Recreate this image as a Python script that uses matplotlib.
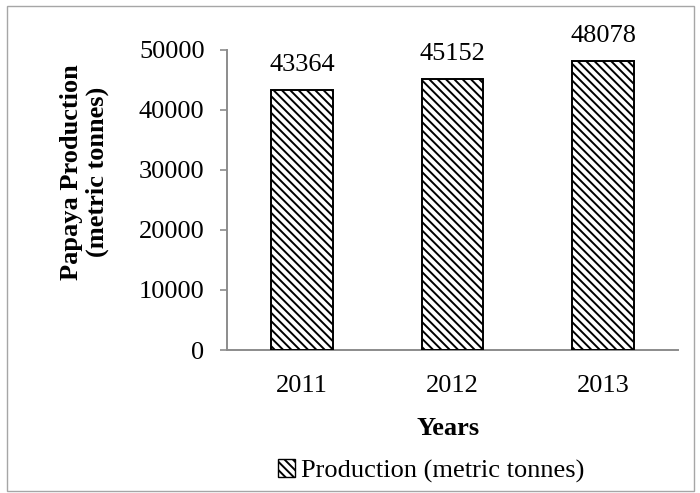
import matplotlib.pyplot as plt
from matplotlib.patches import Rectangle, Patch

years = ['2011', '2012', '2013']
production = [43364, 45152, 48078]
yticks = [0, 10000, 20000, 30000, 40000, 50000]

plt.rcParams['font.family'] = 'Liberation Serif'
plt.rcParams['hatch.linewidth'] = 1.4

fig = plt.figure(figsize=(7, 4.93), dpi=100)
ax = fig.add_axes([0.324, 0.29, 0.645, 0.609])

x = range(len(years))
ax.bar(x, production, width=0.41, color='white', edgecolor='black',
       linewidth=1.4, hatch='\\\\\\\\', zorder=3)
for xi, v in zip(x, production):
    ax.annotate(str(v), (xi, v), xytext=(0, 10), textcoords='offset points',
                ha='center', va='bottom', fontsize=19)

ax.set_xlim(-0.5, 2.5)
ax.set_ylim(0, 50000)
ax.set_yticks(yticks)
ax.set_xticks(list(x))
ax.set_xticklabels(years)
ax.tick_params(axis='y', labelsize=19, length=5, width=1.2, color='#8c8c8c', pad=11)
ax.tick_params(axis='x', labelsize=19, length=0, pad=18)

for s in ['top', 'right']:
    ax.spines[s].set_visible(False)
for s in ['left', 'bottom']:
    ax.spines[s].set_color('#8c8c8c')
    ax.spines[s].set_linewidth(1.4)

ax.set_ylabel('Papaya Production\n(metric tonnes)', fontsize=19,
              fontweight='bold', linespacing=1.1, va='center')
ax.yaxis.set_label_coords(-0.315, 0.593)
ax.set_xlabel('Years', fontsize=19, fontweight='bold', va='center')
ax.xaxis.set_label_coords(0.49, -0.26)

handle = Patch(facecolor='white', edgecolor='black', hatch='\\\\\\\\',
               linewidth=1.0)
fig.legend([handle], ['Production (metric tonnes)'], loc='center',
           bbox_to_anchor=(431 / 700, 1 - 471 / 493), frameon=False, fontsize=19,
           handlelength=0.65, handleheight=0.65, handletextpad=0.2,
           borderpad=0)

fig.patches.append(Rectangle((0.01, 0.004), 0.982, 0.984, transform=fig.transFigure,
                             fill=False, edgecolor='#a6a6a6', linewidth=1.0))

fig.savefig('out.png', dpi=100)
